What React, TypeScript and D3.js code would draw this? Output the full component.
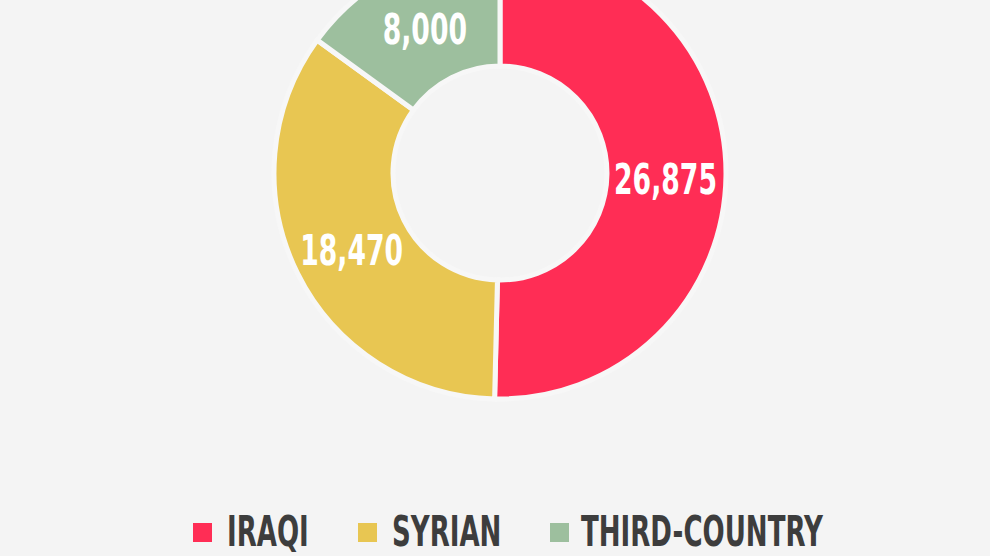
import React from "react";
import * as d3 from "d3";

const categories = ["IRAQI", "SYRIAN", "THIRD-COUNTRY"];
const values = [26875, 18470, 8000];
const colors = ["#ff2d55", "#e8c652", "#9dbf9e"];

const W = 990;
const H = 556;
const CX = 500;
const CY = 173;
const R_OUT = 226;
const R_IN = 107;

const legendX = [193, 358, 550];
const legendTextX = [227, 392, 581];

export default function App() {
  const data = categories.map((c, i) => ({ name: c, value: values[i], color: colors[i] }));
  const pie = d3.pie<any>().sort(null).value((d: any) => d.value);
  const arcs = pie(data);
  const arc = d3.arc<any>().innerRadius(R_IN).outerRadius(R_OUT);
  const labelArc = d3.arc<any>().innerRadius((R_IN + 224) / 2).outerRadius((R_IN + 224) / 2);
  const fmt = d3.format(",");

  return (
    <svg
      width={W}
      height={H}
      style={{ position: "absolute", left: 0, top: 0, background: "#f4f4f4" }}
      fontFamily="'DejaVu Sans Condensed', 'DejaVu Sans', sans-serif"
      fontWeight="bold"
    >
      <rect x={0} y={0} width={W} height={H} fill="#f4f4f4" />
      <g transform={`translate(${CX},${CY})`}>
        {arcs.map((a, i) => (
          <path key={i} d={arc(a) as string} fill={a.data.color} stroke="#f7f7f7" strokeWidth={5} />
        ))}
        {arcs.map((a, i) => {
          const [x, y] = labelArc.centroid(a);
          return (
            <text
              key={"l" + i}
              transform={`translate(${x},${y + 4}) scale(0.69,1)`}
              textAnchor="middle"
              dominantBaseline="central"
              fill="#ffffff"
              fontSize={43}
            >
              {fmt(a.data.value)}
            </text>
          );
        })}
      </g>
      <g>
        {data.map((d, i) => (
          <g key={"lg" + i}>
            <rect x={legendX[i]} y={523} width={19} height={19} fill={d.color} />
            <text
              transform={`translate(${legendTextX[i]},546) scale(0.69,1)`}
              fill="#3d3d3d"
              fontSize={42}
            >
              {d.name}
            </text>
          </g>
        ))}
      </g>
    </svg>
  );
}
